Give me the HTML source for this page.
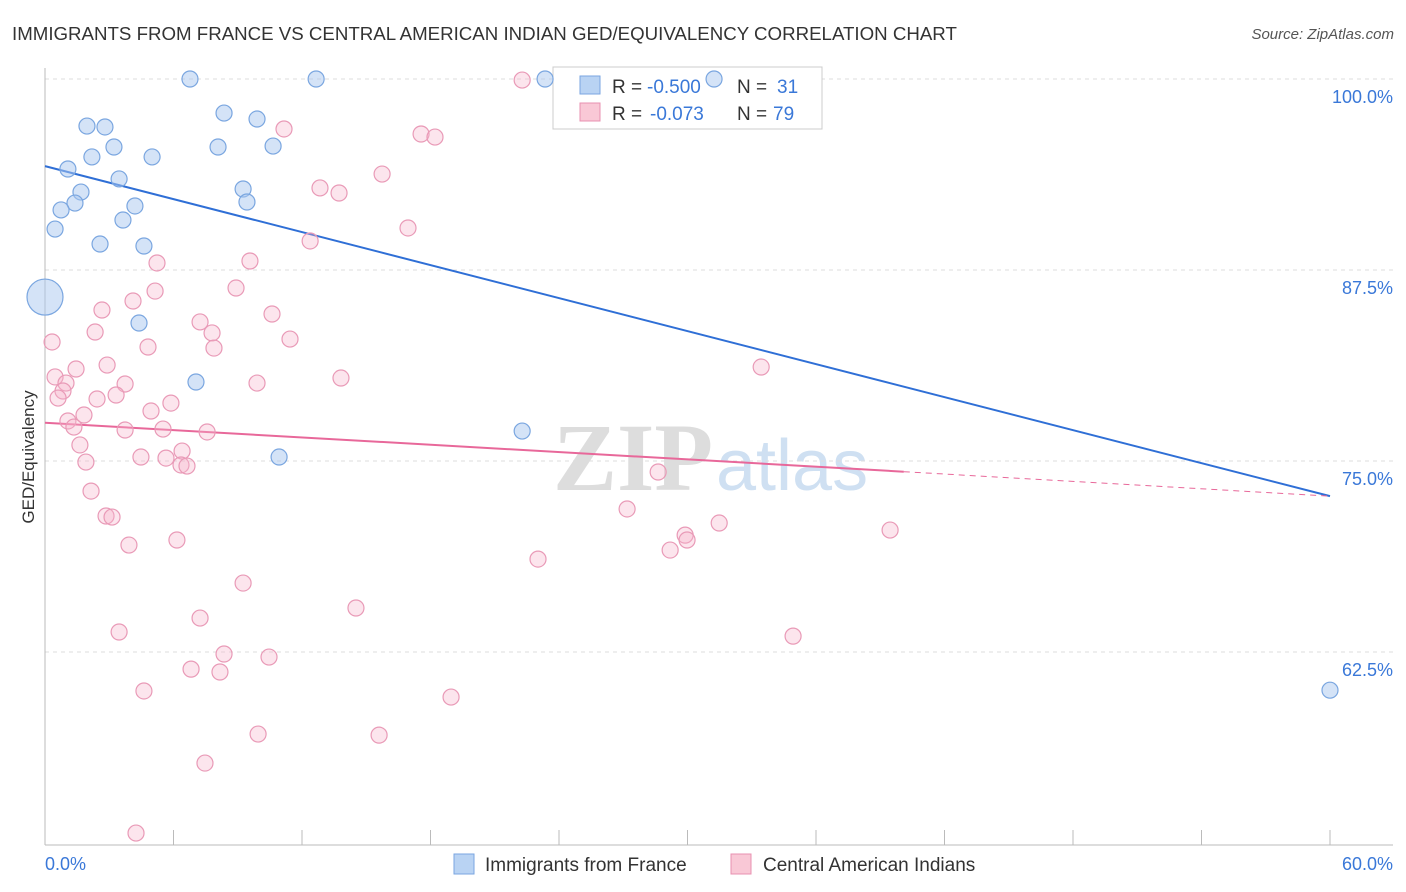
<!DOCTYPE html>
<html><head><meta charset="utf-8"><style>
body{margin:0;background:#fff;font-family:"Liberation Sans",sans-serif}
svg{display:block}
</style></head><body>
<svg id="chart" width="1406" height="892" xmlns="http://www.w3.org/2000/svg">
<text x="12" y="40" font-size="18.7" fill="#333">IMMIGRANTS FROM FRANCE VS CENTRAL AMERICAN INDIAN GED/EQUIVALENCY CORRELATION CHART</text>
<text x="1394" y="39" font-size="15" fill="#555" font-style="italic" text-anchor="end">Source: ZipAtlas.com</text>
<g>
<text x="553" y="490" font-size="96" fill="#ddd" font-family="Liberation Serif" font-weight="bold">ZIP</text>
<text x="716" y="490" font-size="72" fill="#cfe0f2">atlas</text>
</g>
<g id="grid"></g>
<g id="axes"></g>
<g id="trend"></g>
<g>
<rect x="553" y="67" width="269" height="62" fill="#fff" stroke="#ccc"/>
<rect x="580" y="76" width="20" height="18" fill="#b9d3f3" stroke="#7aa6e0"/>
<rect x="580" y="103" width="20" height="18" fill="#f9c8d6" stroke="#e890b0"/>
<text x="612" y="93" font-size="19" fill="#333">R =</text>
<text x="647" y="93" font-size="19" fill="#3a78d8">-0.500</text>
<text x="737" y="93" font-size="19" fill="#333">N =</text>
<text x="777" y="93" font-size="19" fill="#3a78d8">31</text>
<text x="612" y="120" font-size="19" fill="#333">R =</text>
<text x="650" y="120" font-size="19" fill="#3a78d8">-0.073</text>
<text x="737" y="120" font-size="19" fill="#333">N =</text>
<text x="773" y="120" font-size="19" fill="#3a78d8">79</text>
</g>
<g id="pts"></g>
<g>
<rect x="454" y="854" width="20" height="20" fill="#b9d3f3" stroke="#7aa6e0"/>
<text x="485" y="871" font-size="19" fill="#333">Immigrants from France</text>
<rect x="731" y="854" width="20" height="20" fill="#f9c8d6" stroke="#e890b0"/>
<text x="763" y="871" font-size="19" fill="#333">Central American Indians</text>
</g>
</svg>
<script>
const yTicks=[100,87.5,75,62.5];
const yTickLabels=["100.0%","87.5%","75.0%","62.5%"];
const xTickLabels=["0.0%","60.0%"];
const blueX=[6.77,12.66,23.35,31.24,8.36,9.9,1.96,2.8,3.22,8.08,10.65,2.19,5.0,1.07,3.46,9.25,1.68,1.4,4.2,9.43,0.75,3.64,0.47,2.57,4.62,0.0,4.39,7.05,22.28,10.93,60];
const blueY=[100,100,100,100,97.77,97.38,96.92,96.86,95.55,95.55,95.61,94.9,94.9,94.11,93.46,92.8,92.6,91.88,91.69,91.95,91.43,90.77,90.18,89.2,89.07,85.73,84.03,80.17,76.96,75.26,60.0];
const pinkX=[22.28,17.56,18.21,11.16,12.84,13.73,15.74,16.95,12.38,5.23,9.57,8.92,5.14,4.11,2.66,10.6,7.24,7.8,2.34,11.44,0.33,4.81,7.89,33.44,2.9,1.45,0.47,13.82,9.9,3.74,0.98,0.84,0.61,3.32,2.43,5.88,4.95,1.82,1.07,1.35,3.74,5.51,7.57,1.63,6.4,4.48,5.65,1.91,6.35,6.63,28.63,2.15,27.18,2.85,3.13,31.48,39.46,6.16,29.89,29.98,29.19,3.92,23.02,9.25,14.52,7.24,3.46,34.93,8.36,10.46,6.82,8.17,4.62,18.96,9.95,15.6,7.47,4.25];
const pinkY=[99.93,96.4,96.2,96.73,92.87,92.54,93.78,90.25,89.4,87.96,88.09,86.32,86.12,85.47,84.88,84.62,84.1,83.38,83.44,82.98,82.79,82.46,82.39,81.15,81.28,81.02,80.5,80.43,80.1,80.04,80.1,79.58,79.12,79.32,79.06,78.79,78.27,78.01,77.62,77.22,77.03,77.09,76.9,76.05,75.65,75.26,75.19,74.93,74.74,74.67,74.28,73.03,71.86,71.4,71.33,70.94,70.48,69.83,70.15,69.83,69.17,69.5,68.58,67.01,65.38,64.72,63.81,63.54,62.37,62.17,61.38,61.19,59.95,59.55,57.13,57.06,55.23,50.65];
const blueTrend=[[0,94.3],[60,72.7]];
const pinkTrend=[[0,77.5],[40.1,74.3],[60,72.7]];
const NS="http://www.w3.org/2000/svg";
const X=v=>45+v/60*1285;
const Y=v=>79+(100-v)/12.5*191;
function mk(tag,attrs,parent){const e=document.createElementNS(NS,tag);for(const k in attrs)e.setAttribute(k,attrs[k]);parent.appendChild(e);return e;}
const grid=document.getElementById('grid'),axes=document.getElementById('axes'),trend=document.getElementById('trend'),pts=document.getElementById('pts');
yTicks.forEach((t,i)=>{
 const l=mk('line',{x1:45,x2:1393,y1:Y(t),y2:Y(t),stroke:'#ddd','stroke-dasharray':'4,4'},grid);
 
 
 const tx=mk('text',{x:1393,y:Y(t)+24,'font-size':18,fill:'#3a78d8','text-anchor':'end'},axes);
 tx.textContent=yTickLabels[i];
 
 
});
mk('line',{x1:45,x2:45,y1:68,y2:845,stroke:'#bbb'},axes);
mk('line',{x1:45,x2:1393,y1:845,y2:845,stroke:'#bbb'},axes);
for(let i=0;i<=10;i++){mk('line',{x1:X(i*6),x2:X(i*6),y1:830,y2:845,stroke:'#bbb'},axes);}
let xl=mk('text',{x:45,y:870,'font-size':18,fill:'#3a78d8'},axes);xl.textContent=xTickLabels[0];


xl=mk('text',{x:1393,y:870,'font-size':18,fill:'#3a78d8','text-anchor':'end'},axes);xl.textContent=xTickLabels[1];


const yt=mk('text',{x:0,y:0,'font-size':17,fill:'#333','text-anchor':'middle',transform:'translate(34,457) rotate(-90)'},axes);
yt.textContent='GED/Equivalency';


pinkX.forEach((v,i)=>{
 const c=mk('circle',{cx:X(v),cy:Y(pinkY[i]),r:8,fill:'rgba(246,180,202,0.35)',stroke:'#e99ab7','stroke-width':1.2},pts);
 
 
});
blueX.forEach((v,i)=>{
 const c=mk('circle',{cx:X(v),cy:Y(blueY[i]),r:i==25?18:8,fill:'rgba(170,200,240,0.5)',stroke:'#7aa6e0','stroke-width':1.2},pts);
 
 
});
const bl=mk('line',{x1:X(blueTrend[0][0]),y1:Y(blueTrend[0][1]),x2:X(blueTrend[1][0]),y2:Y(blueTrend[1][1]),stroke:'#2f6fd6','stroke-width':2},trend);


const pl=mk('line',{x1:X(pinkTrend[0][0]),y1:Y(pinkTrend[0][1]),x2:X(pinkTrend[1][0]),y2:Y(pinkTrend[1][1]),stroke:'#e8689a','stroke-width':2},trend);


const pd=mk('line',{x1:X(pinkTrend[1][0]),y1:Y(pinkTrend[1][1]),x2:X(pinkTrend[2][0]),y2:Y(pinkTrend[2][1]),stroke:'#e8689a','stroke-width':1,'stroke-dasharray':'6,5'},trend);


</script>
</body></html>
